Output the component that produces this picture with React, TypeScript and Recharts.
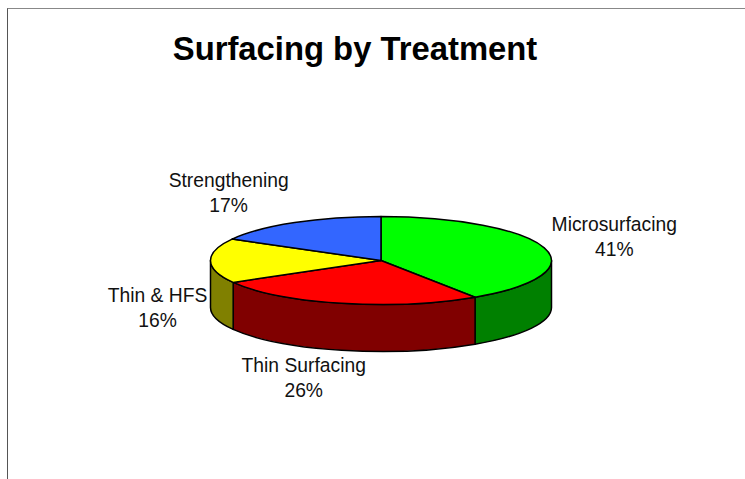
import React from "react";
import { PieChart, Pie } from "recharts";

const categories = ["Microsurfacing", "Thin Surfacing", "Thin & HFS", "Strengthening"];
const shares = [40.7, 26, 16.4, 16.9];
const topColors = ["#00FF00", "#FF0000", "#FFFF00", "#3366FF"];
const wallColors = ["#008000", "#800000", "#808000", "#3366FF"];
const chartTitle = "Surfacing by Treatment";

const W = 745;
const H = 479;
const CX = 381;
const CY = 260.5;
const RX = 170.5;
const RY = 44;
const DEPTH = 47;
const FONT = "'Liberation Sans', Arial, sans-serif";
const labelShift = [
  [70, -11],
  [-38, 74],
  [-53, 47],
  [-66, -30],
];

const rows = categories.map((name, i) => ({
  name,
  value: shares[i],
  fill: topColors[i],
  wall: wallColors[i],
  index: i,
}));

const RAD = Math.PI / 180;
const pt = (a: number, dy = 0) => [CX + RX * Math.cos(a * RAD), CY - RY * Math.sin(a * RAD) + dy];

function Slice3D(props: any) {
  const { startAngle, endAngle, fill, payload } = props;
  const wall = payload?.wall ?? props.wall;
  const [sx, sy] = pt(startAngle);
  const [ex, ey] = pt(endAngle);
  const large = Math.abs(startAngle - endAngle) > 180 ? 1 : 0;
  const top = `M${CX},${CY} L${sx},${sy} A${RX},${RY} 0 ${large} 1 ${ex},${ey} Z`;
  const hi = Math.min(startAngle, 0);
  const lo = Math.max(endAngle, -180);
  let side: string | null = null;
  if (hi > lo) {
    const [ax, ay] = pt(hi);
    const [bx, by] = pt(lo);
    side = `M${ax},${ay} A${RX},${RY} 0 0 1 ${bx},${by} L${bx},${by + DEPTH} A${RX},${RY} 0 0 0 ${ax},${ay + DEPTH} Z`;
  }
  return (
    <g>
      {side && <path d={side} fill={wall} stroke="#000" strokeWidth={1.5} strokeLinejoin="round" />}
      <path d={top} fill={fill} stroke="#000" strokeWidth={1.5} strokeLinejoin="round" />
    </g>
  );
}

function SliceLabel(props: any) {
  const { midAngle, index, name, value } = props;
  const [px, py] = pt(midAngle);
  const x = px + labelShift[index][0];
  const y = py + labelShift[index][1];
  return (
    <text textAnchor="middle" fontFamily={FONT} fontSize={19.3} fill="#111">
      <tspan x={x} y={y - 5.5}>{name}</tspan>
      <tspan x={x} y={y + 19.5}>{`${Math.round(value)}%`}</tspan>
    </text>
  );
}

export default function App() {
  return (
    <div style={{ position: "absolute", left: 0, top: 0, width: W, height: H, background: "#fff", overflow: "hidden" }}>
      <div style={{ position: "absolute", left: 7, top: 8, width: W, height: H, borderLeft: "1.5px solid #555", borderTop: "1.5px solid #888" }} />
      <div style={{ position: "absolute", left: 0, top: 0 }}>
        <PieChart width={W} height={H} margin={{ top: 0, right: 0, bottom: 0, left: 0 }}>
          <text x={355} y={60} textAnchor="middle" fontFamily={FONT} fontWeight="bold" fontSize={32.8} fill="#000">
            {chartTitle}
          </text>
          <Pie
            data={rows}
            dataKey="value"
            nameKey="name"
            cx={CX}
            cy={CY}
            innerRadius={0}
            outerRadius={RX}
            startAngle={90}
            endAngle={-270}
            paddingAngle={0}
            isAnimationActive={false}
            shape={Slice3D}
            label={SliceLabel}
            labelLine={false}
          />
        </PieChart>
      </div>
    </div>
  );
}
